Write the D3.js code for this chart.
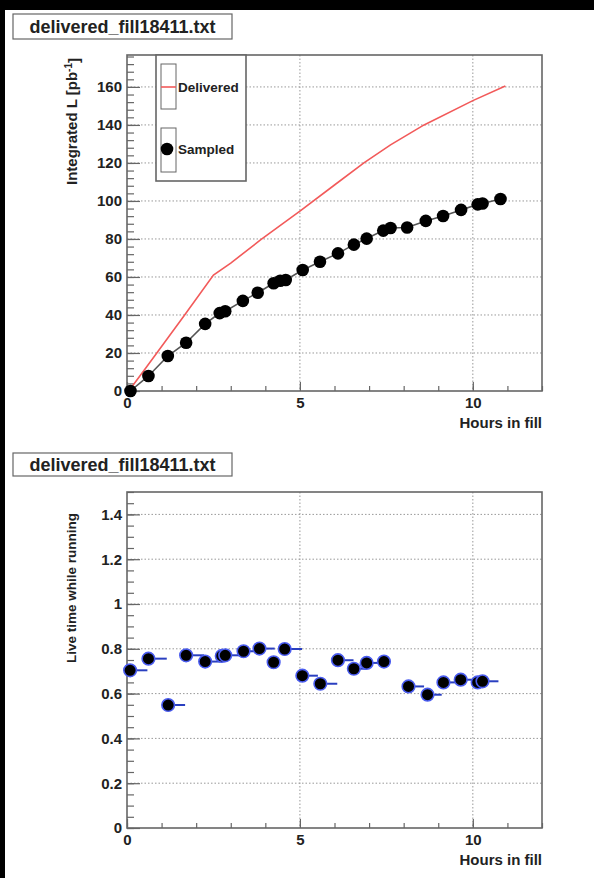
<!DOCTYPE html>
<html>
<head>
<meta charset="utf-8">
<script src="https://cdn.jsdelivr.net/npm/d3@7"></script>
<style>
  html, body { margin: 0; padding: 0; background: #000; }
  svg { display: block; }
  text { font-family: "Liberation Sans", Arial, Helvetica, sans-serif; font-weight: bold; fill: #222; }
</style>
</head>
<body>
<script>
// Fill 18411: integrated luminosity and live-time fraction versus hours in fill
const fileName = "delivered_fill18411.txt";

// Delivered luminosity curve (hours, pb^-1)
const deliveredHours = [0.05, 0.57, 1.63, 2.5, 3.0, 3.86, 5.0, 6.0, 6.85, 7.62, 8.59, 10.0, 10.94];
const deliveredLumi  = [0, 12.8, 39.1, 61, 67.3, 79.5, 94.6, 108.4, 120, 129.5, 140, 152.8, 160.5];

// Sampled luminosity points (hours, pb^-1)
const sampledHours = [0.1, 0.62, 1.18, 1.71, 2.26, 2.68, 2.84, 3.35, 3.78, 4.24, 4.43, 4.59, 5.08, 5.58,
                      6.1, 6.56, 6.93, 7.41, 7.62, 8.1, 8.64, 9.14, 9.66, 10.14, 10.28, 10.8];
const sampledLumi  = [0, 7.9, 18.4, 25.4, 35.3, 41, 42, 47.4, 51.7, 56.7, 58, 58.4, 63.7, 68,
                      72.4, 77, 80.2, 84.4, 85.8, 86, 89.5, 92.1, 95.3, 98.2, 98.7, 101];

// Live time while running: interval start, interval end, fraction
const liveStart = [0.09, 0.62, 1.19, 1.71, 2.26, 2.74, 2.84, 3.37, 3.83, 4.24, 4.56, 5.07, 5.59,
                   6.1, 6.56, 6.93, 7.43, 8.14, 8.69, 9.15, 9.65, 10.14, 10.28];
const liveEnd   = [0.59, 1.15, 1.68, 2.23, 2.7, 2.84, 3.33, 3.8, 4.27, 4.24, 5.06, 5.52, 6.08,
                   6.55, 6.93, 7.43, 7.43, 8.59, 9.1, 9.6, 10.1, 10.28, 10.74];
const liveFrac  = [0.704, 0.756, 0.549, 0.771, 0.743, 0.768, 0.771, 0.789, 0.801, 0.74, 0.799, 0.68, 0.644,
                   0.749, 0.711, 0.737, 0.743, 0.632, 0.595, 0.65, 0.662, 0.65, 0.655];

const hourTicks = [0, 5, 10];
const lumiTicks = [0, 20, 40, 60, 80, 100, 120, 140, 160];
const liveTicks = [0, 0.2, 0.4, 0.6, 0.8, 1, 1.2, 1.4];

const W = 594, H = 878;
const svg = d3.select("body").append("svg").attr("width", W).attr("height", H);

// page background (white canvas inside a thin dark border at top/left)
svg.append("rect").attr("x", 0).attr("y", 0).attr("width", W).attr("height", H).attr("fill", "#000");
svg.append("rect").attr("x", 5).attr("y", 10).attr("width", W - 5).attr("height", H - 10).attr("fill", "#fff");

function titleBox(y0, y1) {
  svg.append("rect").attr("x", 13).attr("y", y0).attr("width", 219).attr("height", y1 - y0)
    .attr("fill", "#fff").attr("stroke", "#666").attr("stroke-width", 1.2);
  svg.append("text").attr("x", 122.5).attr("y", (y0 + y1) / 2).attr("dy", "0.36em")
    .attr("text-anchor", "middle").style("font-size", "18px").text(fileName);
}

function panel(cfg) {
  const { top, bottom, yMax, yTicks, yMinorStep, yFmt } = cfg;
  const left = 127, right = 542;
  const x = d3.scaleLinear().domain([0, 12]).range([left, right]);
  const y = d3.scaleLinear().domain([0, yMax]).range([bottom, top]);
  const g = svg.append("g");

  // dotted grid at major ticks
  g.append("g").selectAll("line").data(yTicks.filter(v => v > 0)).join("line")
    .attr("x1", left).attr("x2", right).attr("y1", d => y(d)).attr("y2", d => y(d))
    .attr("stroke", "#999").attr("stroke-width", 1).attr("stroke-dasharray", "1.5,2");
  g.append("g").selectAll("line").data(hourTicks.filter(v => v > 0)).join("line")
    .attr("x1", d => x(d)).attr("x2", d => x(d)).attr("y1", top).attr("y2", bottom)
    .attr("stroke", "#999").attr("stroke-width", 1).attr("stroke-dasharray", "1.5,2");

  // minor ticks
  const yMinor = d3.range(0, yMax + 1e-9, yMinorStep);
  g.append("g").attr("transform", `translate(${left},0)`)
    .call(d3.axisLeft(y).tickValues(yMinor).tickSize(-7).tickFormat(""))
    .call(a => a.select(".domain").remove())
    .call(a => a.selectAll("line").attr("stroke", "#666").attr("stroke-width", 1.2));
  g.append("g").attr("transform", `translate(0,${bottom})`)
    .call(d3.axisBottom(x).tickValues(d3.range(0, 12.001, 1)).tickSize(-5).tickFormat(""))
    .call(a => a.select(".domain").remove())
    .call(a => a.selectAll("line").attr("stroke", "#666").attr("stroke-width", 1.2));

  // major ticks with labels
  const ya = g.append("g").attr("transform", `translate(${left},0)`)
    .call(d3.axisLeft(y).tickValues(yTicks).tickSize(-13).tickPadding(5).tickFormat(yFmt));
  ya.select(".domain").remove();
  ya.selectAll("line").attr("stroke", "#666").attr("stroke-width", 1.2);
  ya.selectAll("text").style("font-size", "15px").attr("fill", "#222").attr("font-family", null);

  const xa = g.append("g").attr("transform", `translate(0,${bottom})`)
    .call(d3.axisBottom(x).tickValues(hourTicks).tickSize(-9).tickPadding(4).tickFormat(d3.format("d")));
  xa.select(".domain").remove();
  xa.selectAll("line").attr("stroke", "#666").attr("stroke-width", 1.2);
  xa.selectAll("text").style("font-size", "15px").attr("fill", "#222").attr("font-family", null)
    .attr("y", 6);

  // frame
  g.append("rect").attr("x", left).attr("y", top).attr("width", right - left).attr("height", bottom - top)
    .attr("fill", "none").attr("stroke", "#666").attr("stroke-width", 1.6);

  svg.append("text").attr("x", right).attr("y", bottom + 37).attr("text-anchor", "end")
    .style("font-size", "15px").text("Hours in fill");
  return { x, y, g, left, right };
}

// ---------- upper panel: integrated luminosity ----------
titleBox(14, 39);
const p1 = panel({ top: 55, bottom: 391, yMax: 176.8, yTicks: lumiTicks, yMinorStep: 4, yFmt: d3.format("d") });

const ylab1 = svg.append("text").attr("transform", "translate(76.5,58) rotate(-90)")
  .attr("text-anchor", "end").style("font-size", "15px");
ylab1.append("tspan").text("Integrated L [pb");
ylab1.append("tspan").attr("dy", "-0.45em").style("font-size", "10px").text("-1");
ylab1.append("tspan").attr("dy", "0.45em").text("]");

const deliveredPts = deliveredHours.map((h, i) => [h, deliveredLumi[i]]);
const sampledPts = sampledHours.map((h, i) => [h, sampledLumi[i]]);
const line1 = d3.line().x(d => p1.x(d[0])).y(d => p1.y(d[1]));

p1.g.append("path").datum(deliveredPts).attr("d", line1)
  .attr("fill", "none").attr("stroke", "#f25a5a").attr("stroke-width", 1.6);
p1.g.append("path").datum(sampledPts).attr("d", line1)
  .attr("fill", "none").attr("stroke", "#555").attr("stroke-width", 1.6);
p1.g.append("g").selectAll("circle").data(sampledPts).join("circle")
  .attr("cx", d => p1.x(d[0])).attr("cy", d => p1.y(d[1])).attr("r", 6.3).attr("fill", "#000");

// legend
const lg = svg.append("g");
lg.append("rect").attr("x", 156).attr("y", 55).attr("width", 90).attr("height", 126)
  .attr("fill", "#fff").attr("stroke", "#666").attr("stroke-width", 1.6);
lg.append("rect").attr("x", 161).attr("y", 64).attr("width", 15).attr("height", 45)
  .attr("fill", "none").attr("stroke", "#666").attr("stroke-width", 1);
lg.append("rect").attr("x", 161).attr("y", 128).attr("width", 15).attr("height", 44)
  .attr("fill", "none").attr("stroke", "#666").attr("stroke-width", 1);
lg.append("line").attr("x1", 161).attr("x2", 176).attr("y1", 87).attr("y2", 87)
  .attr("stroke", "#f25a5a").attr("stroke-width", 1.6);
lg.append("circle").attr("cx", 167).attr("cy", 149).attr("r", 6.3).attr("fill", "#000");
lg.append("text").attr("x", 178).attr("y", 87).attr("dy", "0.36em").style("font-size", "13.5px").text("Delivered");
lg.append("text").attr("x", 178).attr("y", 149).attr("dy", "0.36em").style("font-size", "13.5px").text("Sampled");

// ---------- lower panel: live time fraction ----------
titleBox(453, 476);
const p2 = panel({ top: 492, bottom: 828, yMax: 1.5, yTicks: liveTicks, yMinorStep: 0.05,
  yFmt: d => (d === 0 || d === 1) ? d3.format("d")(d) : d3.format(".1f")(d) });

svg.append("text").attr("transform", "translate(75.5,513) rotate(-90)")
  .attr("text-anchor", "end").style("font-size", "13.5px").text("Live time while running");

const livePts = liveStart.map((s, i) => ({ s, e: liveEnd[i], v: liveFrac[i] }));
p2.g.append("g").selectAll("line").data(livePts).join("line")
  .attr("x1", d => p2.x(d.s)).attr("x2", d => p2.x(d.e))
  .attr("y1", d => p2.y(d.v)).attr("y2", d => p2.y(d.v))
  .attr("stroke", "#2a3fc0").attr("stroke-width", 2);
p2.g.append("g").selectAll("circle").data(livePts).join("circle")
  .attr("cx", d => p2.x(d.s)).attr("cy", d => p2.y(d.v)).attr("r", 6.3)
  .attr("fill", "#000").attr("stroke", "#4a5cf0").attr("stroke-width", 1.6);
</script>
</body>
</html>
